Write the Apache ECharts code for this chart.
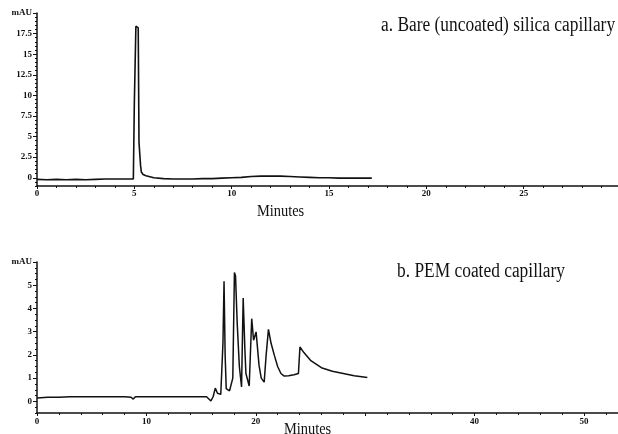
<!DOCTYPE html>
<html>
<head>
<meta charset="utf-8">
<script src="https://cdn.jsdelivr.net/npm/echarts@6/dist/echarts.min.js"></script>
<style>
html,body{margin:0;padding:0;background:#fff;}
#chart{width:618px;height:434px;}
</style>
</head>
<body>
<div id="chart"></div>
<script>
// ---- Data ----
// a. Bare (uncoated) silica capillary
var timeA  = [0, 0.5, 1, 1.5, 2, 2.5, 3, 3.5, 4, 4.5, 4.95, 5.0, 5.05, 5.08, 5.12, 5.2, 5.24, 5.28, 5.32, 5.36, 5.45, 5.6, 6.0, 6.5, 7.0, 7.5, 8.0, 8.5, 9.0, 9.5, 10, 10.5, 11, 11.5, 12, 12.5, 13, 13.5, 14, 14.5, 15, 15.5, 16, 16.5, 17.2];
var valueA = [-0.2, -0.25, -0.2, -0.25, -0.2, -0.25, -0.2, -0.15, -0.15, -0.15, -0.15, 9.0, 9.0, 18.4, 18.4, 18.2, 4.3, 4.2, 1.5, 0.7, 0.4, 0.25, 0.0, -0.1, -0.15, -0.15, -0.15, -0.1, -0.1, -0.05, 0.0, 0.05, 0.15, 0.2, 0.2, 0.2, 0.15, 0.1, 0.05, 0.0, 0.0, -0.05, -0.05, -0.05, -0.05];
// b. PEM coated capillary
var timeB  = [0, 1, 2, 3, 4, 5, 6, 7, 8, 8.6, 8.8, 9.0, 10, 11, 12, 13, 14, 15, 15.5, 15.9, 16.1, 16.3, 16.5, 16.8, 17.0, 17.1, 17.2, 17.3, 17.6, 17.9, 18.05, 18.15, 18.3, 18.5, 18.7, 18.85, 19.0, 19.1, 19.4, 19.63, 19.8, 20.03, 20.3, 20.5, 20.77, 20.95, 21.16, 21.4, 21.7, 22.0, 22.3, 22.6, 23.0, 23.5, 23.9, 24.04, 24.4, 25.0, 26.0, 27.0, 28.0, 29.0, 30.2];
var valueB = [0.15, 0.18, 0.18, 0.2, 0.2, 0.2, 0.2, 0.2, 0.2, 0.18, 0.1, 0.2, 0.2, 0.2, 0.2, 0.2, 0.2, 0.2, 0.2, 0.02, 0.2, 0.57, 0.35, 0.3, 2.5, 5.17, 2.0, 0.55, 0.45, 1.0, 5.55, 5.4, 3.4, 1.5, 0.62, 4.45, 2.3, 1.2, 0.66, 3.56, 2.63, 2.99, 1.55, 1.0, 0.83, 2.0, 3.1, 2.5, 1.98, 1.5, 1.2, 1.09, 1.1, 1.15, 1.2, 2.34, 2.1, 1.77, 1.45, 1.3, 1.2, 1.1, 1.03];
// tick labels
var yTicksA = [0, 2.5, 5, 7.5, 10, 12.5, 15, 17.5, 20];
var yTicksB = [0, 1, 2, 3, 4, 5, 6];
var xTicksA = [0, 5, 10, 15, 20, 25];
var xTicksB = [0, 10, 20, 40, 50];

function zip(t, v) { return t.map(function (x, i) { return [x, v[i]]; }); }
function minorList(min, max, step, majors) {
  var out = [];
  for (var k = Math.ceil(min / step); k * step <= max + 1e-9; k++) {
    var v = +(k * step).toFixed(4);
    if (majors.indexOf(v) < 0) out.push(v);
  }
  return out;
}

var ink = '#111';
var lblFont = { color: ink, fontFamily: 'Liberation Serif', fontWeight: 'bold', fontSize: 9 };

var chart = echarts.init(document.getElementById('chart'), null, { renderer: 'canvas' });
var option = {
  animation: false,
  backgroundColor: '#fff',
  grid: [
    { left: 37, top: 13, width: 583, height: 173, outerBoundsMode: 'none', containLabel: false },
    { left: 37, top: 262, width: 583, height: 151, outerBoundsMode: 'none', containLabel: false }
  ],
  xAxis: [
    { gridIndex: 0, type: 'value', min: 0, max: 29.95, interval: 5,
      axisLine: { onZero: false, lineStyle: { color: ink, width: 1.5 } },
      axisTick: { length: 3, lineStyle: { color: ink } },
      minorTick: { show: true, splitNumber: 5, length: 2, lineStyle: { color: ink } },
      axisLabel: Object.assign({ margin: 3, showMaxLabel: false,
        formatter: function (v) { return xTicksA.indexOf(v) >= 0 ? String(v) : ''; } }, lblFont),
      splitLine: { show: false } },
    { gridIndex: 1, type: 'value', min: 0, max: 53.3, interval: 10,
      axisLine: { onZero: false, lineStyle: { color: ink, width: 1.5 } },
      axisTick: { length: 3, lineStyle: { color: ink } },
      minorTick: { show: true, splitNumber: 5, length: 2, lineStyle: { color: ink } },
      axisLabel: Object.assign({ margin: 4, showMaxLabel: false,
        formatter: function (v) { return xTicksB.indexOf(v) >= 0 ? String(v) : ''; } }, lblFont),
      splitLine: { show: false } }
  ],
  yAxis: [
    { gridIndex: 0, type: 'value', min: -1, max: 20, position: 'left',
      axisLine: { show: true, onZero: false, lineStyle: { color: ink, width: 1.5 } },
      axisTick: { show: true, customValues: yTicksA, length: 4, lineStyle: { color: ink } },
      axisLabel: Object.assign({ customValues: yTicksA, margin: 5,
        formatter: function (v) { return v === 20 ? 'mAU' : String(v); } }, lblFont),
      splitLine: { show: false } },
    { gridIndex: 0, type: 'value', min: -1, max: 20, position: 'left', offset: 0,
      axisLine: { show: false, onZero: false },
      axisTick: { show: true, customValues: minorList(-1, 20, 0.5, yTicksA), length: 2, lineStyle: { color: ink } },
      axisLabel: { show: false }, splitLine: { show: false } },
    { gridIndex: 1, type: 'value', min: -0.5, max: 6, position: 'left',
      axisLine: { show: true, onZero: false, lineStyle: { color: ink, width: 1.5 } },
      axisTick: { show: true, customValues: yTicksB, length: 4, lineStyle: { color: ink } },
      axisLabel: Object.assign({ customValues: yTicksB, margin: 5,
        formatter: function (v) { return v === 6 ? 'mAU' : String(v); } }, lblFont),
      splitLine: { show: false } },
    { gridIndex: 1, type: 'value', min: -0.5, max: 6, position: 'left', offset: 0,
      axisLine: { show: false, onZero: false },
      axisTick: { show: true, customValues: minorList(-0.5, 6, 0.25, yTicksB), length: 2, lineStyle: { color: ink } },
      axisLabel: { show: false }, splitLine: { show: false } }
  ],
  series: [
    { type: 'line', xAxisIndex: 0, yAxisIndex: 0, data: zip(timeA, valueA),
      showSymbol: false, symbol: 'none', lineStyle: { color: ink, width: 1.6 } },
    { type: 'line', xAxisIndex: 1, yAxisIndex: 2, data: zip(timeB, valueB),
      showSymbol: false, symbol: 'none', lineStyle: { color: ink, width: 1.5 } }
  ],
  graphic: [
    { type: 'text', x: 381, y: 16, scaleX: 0.915, scaleY: 1.05,
      style: { text: 'a. Bare (uncoated) silica capillary', fontFamily: 'Liberation Serif', fontSize: 19, fill: ink, verticalAlign: 'top' } },
    { type: 'text', x: 397, y: 262, scaleX: 0.915, scaleY: 1.05,
      style: { text: 'b. PEM coated capillary', fontFamily: 'Liberation Serif', fontSize: 19, fill: ink, verticalAlign: 'top' } },
    { type: 'text', x: 257, y: 204, scaleX: 0.9,
      style: { text: 'Minutes', fontFamily: 'Liberation Serif', fontSize: 16, fill: ink, verticalAlign: 'top' } },
    { type: 'text', x: 284, y: 422, scaleX: 0.9,
      style: { text: 'Minutes', fontFamily: 'Liberation Serif', fontSize: 16, fill: ink, verticalAlign: 'top' } }
  ]
};
chart.setOption(option);
</script>
</body>
</html>
